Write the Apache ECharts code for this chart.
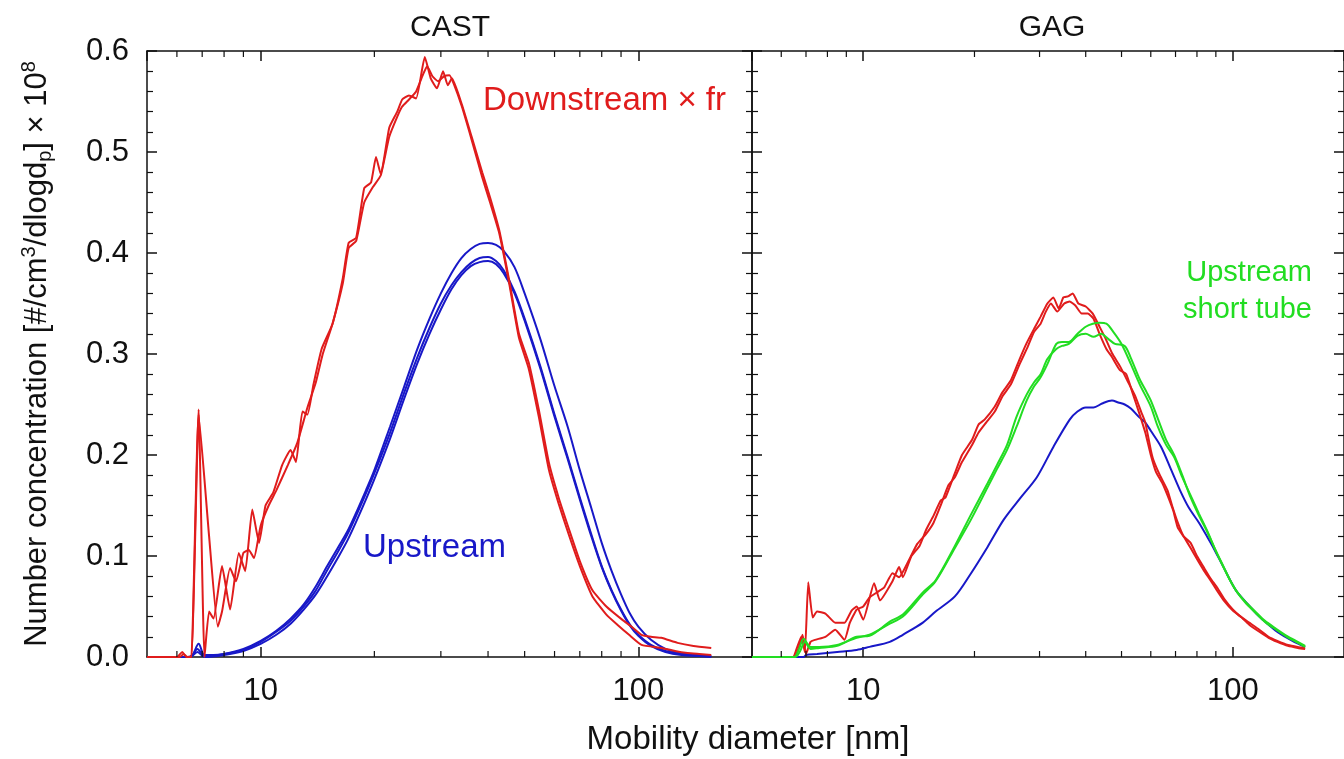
<!DOCTYPE html>
<html>
<head>
<meta charset="utf-8">
<script src="https://cdn.jsdelivr.net/npm/echarts@6/dist/echarts.min.js"></script>
<style>html,body{margin:0;padding:0;background:#fff}#c{width:1344px;height:759px}</style>
</head>
<body>
<div id="c"></div>
<script>
// ---- data: [mobility diameter nm, number concentration x1e8] ----
var castDownA = [[5,0],[6.0,0],[6.2,0.005],[6.35,0],[6.55,0],[6.85,0.245],[7.1,0],[7.3,0.045],[7.5,0.038],[7.9,0.09],[8.3,0.047],[8.75,0.103],[9.1,0.085],[9.5,0.146],[9.9,0.113],[10.3,0.15],[10.8,0.163],[11.4,0.19],[12.0,0.205],[12.4,0.193],[12.9,0.243],[13.3,0.24],[13.8,0.27],[14.5,0.305],[15.5,0.33],[16.5,0.375],[17.1,0.41],[17.9,0.415],[18.8,0.464],[19.6,0.47],[20.2,0.495],[20.8,0.478],[21.9,0.524],[23.0,0.54],[23.7,0.552],[24.7,0.556],[25.8,0.553],[27.2,0.594],[28.2,0.573],[29.3,0.563],[30.4,0.58],[31.3,0.566],[32.1,0.573],[34.1,0.547],[36.2,0.515],[38.6,0.48],[40.5,0.455],[42.8,0.423],[45.5,0.373],[48.3,0.32],[51.3,0.291],[54.5,0.245],[58,0.192],[61.5,0.158],[65.6,0.126],[70,0.095],[75.6,0.066],[82.3,0.05],[90.6,0.037],[96,0.03],[102,0.022],[108,0.02],[115,0.019],[127,0.014],[140,0.011],[156,0.009]];
var castDownB = [[5,0],[6.1,0],[6.25,0.003],[6.4,0],[6.55,0],[6.85,0.24],[7.3,0.12],[7.7,0.03],[7.9,0.045],[8.3,0.088],[8.6,0.075],[9.0,0.103],[9.3,0.106],[9.6,0.098],[10.0,0.13],[10.5,0.15],[11.0,0.165],[11.8,0.19],[12.5,0.212],[13.3,0.247],[14.0,0.272],[14.6,0.3],[15.5,0.33],[16.5,0.37],[17.1,0.405],[17.9,0.412],[18.8,0.45],[19.8,0.465],[20.8,0.477],[21.9,0.515],[23.0,0.535],[23.7,0.545],[24.7,0.552],[25.8,0.56],[27.0,0.578],[27.6,0.585],[28.5,0.575],[29.5,0.57],[30.6,0.575],[31.6,0.576],[32.5,0.567],[34.1,0.545],[36.2,0.512],[38.6,0.475],[40.5,0.45],[42.8,0.42],[45.5,0.37],[48.3,0.316],[51.3,0.285],[54.5,0.238],[58,0.185],[61.5,0.152],[65.6,0.12],[70,0.09],[75.6,0.06],[82.3,0.042],[88,0.032],[94.5,0.022],[102,0.012],[115,0.009],[125,0.006],[135,0.004],[145,0.003],[156,0.002]];
var castUpA = [[5,0],[6.4,0],[6.6,0.002],[6.85,0.013],[7.1,0.002],[7.5,0.002],[8,0.003],[9,0.008],[10,0.016],[11,0.026],[12,0.038],[13,0.052],[14,0.07],[15,0.09],[16,0.108],[17,0.125],[18,0.145],[19,0.165],[20,0.185],[22,0.228],[24,0.268],[26,0.305],[28,0.335],[30,0.36],[32,0.38],[34,0.395],[36,0.404],[38,0.409],[40,0.41],[42,0.408],[44,0.402],[47,0.386],[50,0.36],[55,0.315],[60,0.268],[65,0.228],[70,0.185],[75,0.148],[80,0.113],[85,0.085],[90,0.062],[95,0.043],[100,0.03],[108,0.017],[118,0.008],[130,0.004],[145,0.002],[156,0.001]];
var castUpB = [[5,0],[6.5,0],[6.8,0.008],[7.1,0.001],[8,0.003],[9,0.007],[10,0.015],[11,0.025],[12,0.036],[13,0.05],[14,0.066],[15,0.086],[16,0.104],[17,0.122],[18,0.142],[19,0.162],[20,0.182],[22,0.222],[24,0.262],[26,0.297],[28,0.326],[30,0.35],[32,0.368],[34,0.381],[36,0.39],[38,0.395],[40,0.396],[42,0.392],[44,0.383],[47,0.362],[50,0.335],[55,0.288],[60,0.24],[65,0.198],[70,0.158],[75,0.122],[80,0.09],[85,0.066],[90,0.047],[95,0.032],[100,0.022],[108,0.012],[118,0.006],[130,0.003],[145,0.001],[156,0.001]];
var castUpC = [[5,0],[6.5,0],[6.8,0.005],[7.1,0],[8,0.002],[9,0.006],[10,0.013],[11,0.022],[12,0.033],[13,0.047],[14,0.062],[15,0.08],[16,0.098],[17,0.116],[18,0.136],[19,0.156],[20,0.176],[22,0.216],[24,0.256],[26,0.291],[28,0.32],[30,0.344],[32,0.364],[34,0.378],[36,0.387],[38,0.391],[40,0.392],[42,0.389],[44,0.38],[47,0.36],[50,0.333],[55,0.286],[60,0.238],[65,0.196],[70,0.156],[75,0.12],[80,0.089],[85,0.065],[90,0.046],[95,0.031],[100,0.021],[108,0.011],[118,0.005],[130,0.002],[145,0.001],[156,0]];
var gagDownA = [[5,0],[6.45,0],[6.6,0.008],[6.8,0.02],[6.95,0.005],[7.1,0.074],[7.3,0.039],[7.5,0.045],[7.9,0.043],[8.4,0.034],[8.9,0.034],[9.3,0.046],[9.6,0.05],[10,0.037],[10.7,0.073],[11.1,0.056],[12,0.075],[12.5,0.089],[12.8,0.079],[13.5,0.1],[14.2,0.11],[14.8,0.126],[15.5,0.14],[16.2,0.155],[16.7,0.158],[17.7,0.182],[18.5,0.2],[19.7,0.215],[20.5,0.23],[21.3,0.235],[22.7,0.248],[23.8,0.262],[25.1,0.274],[26.5,0.295],[27.7,0.311],[29,0.325],[30.2,0.337],[31.5,0.35],[32.7,0.356],[33.8,0.345],[34.8,0.356],[35.8,0.357],[36.9,0.36],[38.2,0.35],[40,0.347],[41.8,0.34],[43.6,0.327],[45.3,0.315],[47.1,0.301],[49.5,0.288],[52.3,0.271],[54.5,0.258],[56.6,0.242],[58,0.232],[60,0.205],[61,0.195],[63.5,0.18],[66.6,0.165],[68.5,0.15],[71,0.133],[73.5,0.12],[76.9,0.113],[80,0.1],[83.4,0.089],[87,0.078],[90.6,0.069],[95,0.057],[100,0.047],[105,0.04],[110.8,0.034],[118,0.027],[125,0.02],[132,0.016],[141,0.012],[150,0.01],[157,0.009]];
var gagDownB = [[5,0],[6.5,0],[6.7,0.01],[6.85,0.022],[7.0,0.003],[7.2,0.015],[7.4,0.017],[7.9,0.02],[8.4,0.027],[8.9,0.017],[9.2,0.034],[9.6,0.047],[10.0,0.05],[10.4,0.059],[11.0,0.065],[11.4,0.069],[12.0,0.083],[12.5,0.079],[13.3,0.096],[14.0,0.112],[14.8,0.122],[15.5,0.133],[16.2,0.15],[17.0,0.17],[17.7,0.178],[18.5,0.193],[19.7,0.21],[20.5,0.222],[21.5,0.232],[22.7,0.243],[23.8,0.258],[25.1,0.27],[26.5,0.29],[27.7,0.305],[29,0.322],[30.2,0.33],[31.2,0.342],[32.2,0.35],[33.5,0.342],[35.0,0.35],[36.2,0.352],[37.5,0.348],[39,0.34],[40.5,0.34],[42,0.335],[43.6,0.32],[45.5,0.305],[47.1,0.297],[49.5,0.284],[51.5,0.28],[53.5,0.262],[56,0.24],[58,0.222],[60,0.2],[62,0.183],[64.5,0.172],[66.6,0.16],[69,0.145],[71,0.128],[74,0.118],[76.9,0.108],[80,0.097],[83.4,0.086],[87,0.076],[90.6,0.066],[95,0.055],[100,0.046],[105,0.04],[110.8,0.032],[118,0.025],[125,0.019],[132,0.015],[141,0.011],[150,0.009],[157,0.008]];
var gagShortA = [[5,0],[6.5,0],[6.7,0.008],[6.9,0.018],[7.2,0.01],[7.6,0.01],[8.5,0.012],[9.6,0.019],[10.4,0.022],[11.8,0.033],[12.8,0.04],[14.5,0.062],[15.7,0.075],[17.7,0.108],[19.5,0.135],[21.7,0.168],[23,0.186],[24.5,0.205],[26,0.228],[27.7,0.254],[29,0.268],[30.2,0.277],[31.5,0.29],[33.3,0.31],[34.5,0.312],[36,0.312],[38,0.32],[40,0.327],[41.8,0.33],[43.6,0.331],[45.5,0.33],[47.5,0.322],[50,0.31],[53,0.29],[56,0.27],[60,0.248],[62.7,0.228],[66,0.21],[69.4,0.198],[73,0.178],[76.9,0.16],[81,0.142],[85,0.126],[90,0.105],[94.3,0.089],[98,0.077],[102,0.066],[108,0.054],[115,0.044],[122,0.035],[131,0.027],[140,0.02],[150,0.014],[157,0.01]];
var gagShortB = [[5,0],[6.55,0],[6.75,0.006],[6.95,0.015],[7.2,0.008],[7.6,0.009],[8.5,0.011],[9.6,0.02],[10.4,0.021],[11.8,0.035],[12.8,0.042],[14.5,0.064],[15.7,0.076],[17.7,0.11],[19.5,0.14],[21.7,0.172],[23,0.19],[24.5,0.21],[26,0.238],[27.7,0.26],[29,0.272],[30.2,0.28],[31.5,0.295],[33.3,0.305],[34.5,0.308],[36,0.31],[38,0.318],[40,0.32],[42,0.317],[44,0.32],[46,0.315],[48,0.31],[51,0.308],[53,0.296],[56,0.275],[58.5,0.262],[60,0.254],[62.7,0.236],[66,0.215],[69.4,0.2],[73,0.18],[76.9,0.158],[81,0.14],[85,0.125],[90,0.105],[94.3,0.09],[98,0.077],[102,0.066],[108,0.055],[115,0.045],[122,0.036],[131,0.028],[140,0.021],[150,0.015],[157,0.011]];
var gagUp = [[5,0],[6.9,0],[7.0,0.002],[7.5,0.003],[8.5,0.005],[9.6,0.007],[10.4,0.01],[11.8,0.015],[12.8,0.022],[14.5,0.034],[15.7,0.045],[17.7,0.06],[19.5,0.082],[21.7,0.109],[24,0.136],[26.7,0.158],[29.5,0.178],[32.7,0.208],[36.2,0.235],[38,0.243],[40,0.247],[42,0.247],[44.3,0.251],[47.1,0.254],[49,0.252],[51,0.25],[53,0.246],[55.6,0.238],[58,0.232],[60,0.224],[64,0.208],[68,0.186],[72,0.165],[76,0.148],[81,0.133],[85,0.12],[88.4,0.109],[95,0.087],[102,0.066],[110,0.052],[118,0.04],[125,0.032],[133,0.024],[145,0.016],[157,0.01]];
var minorTickValues = [6,7,8,9,20,30,40,50,60,70,80,90];
var panelTitles = ['CAST','GAG'];
var xAxisTitle = 'Mobility diameter [nm]';

var RED = '#e01c1c', BLUE = '#1818c8', GREEN = '#22dd22', INK = '#111';
var FONT = '"Liberation Sans", Arial, sans-serif';

var chart = echarts.init(document.getElementById('c'), null, {renderer: 'canvas'});

var grids = [
  {left: 147, top: 51, width: 605, height: 606},
  {left: 752, top: 51, width: 605, height: 606}
];

function xAx(gi, pos) {
  return {
    type: 'log', logBase: 10, min: 5, max: 200, gridIndex: gi, position: pos,
    axisLine: {show: true, onZero: false, lineStyle: {color: INK, width: 1.5}},
    axisTick: {show: true, inside: true, length: 10, lineStyle: {color: INK, width: 1.5}},
    minorTick: {show: false},
    splitLine: {show: false},
    axisLabel: {show: pos === 'bottom', margin: 19, fontSize: 31, color: INK, fontFamily: FONT,
      showMinLabel: false, showMaxLabel: false}
  };
}
function yAx(gi, pos, labels) {
  var a = {
    type: 'value', min: 0, max: 0.6, interval: 0.1, gridIndex: gi, position: pos,
    axisLine: {show: true, onZero: false, lineStyle: {color: INK, width: 1.5}},
    axisTick: {show: true, inside: true, length: 10, lineStyle: {color: INK, width: 1.5}},
    minorTick: {show: true, splitNumber: 5, length: 6, lineStyle: {color: INK, width: 1.2}},
    splitLine: {show: false},
    axisLabel: {show: labels, margin: 18, fontSize: 31, color: INK, fontFamily: FONT,
      formatter: function (v) { return v.toFixed(1); }}
  };
  if (labels) {
    a.name = 'Number concentration [#/cm{sup|3}/dlogd{sub|p}] × 10{sup|8}';
    a.nameLocation = 'middle';
    a.nameRotate = 90;
    a.nameGap = 92;
    a.nameTextStyle = {fontSize: 31, color: INK, fontFamily: FONT,
      rich: {sup: {fontSize: 20, color: INK, fontFamily: FONT, verticalAlign: 'top', lineHeight: 36},
             sub: {fontSize: 20, color: INK, fontFamily: FONT, verticalAlign: 'bottom', lineHeight: 36}}};
  }
  return a;
}

function line(data, color, xi, yi, sm) {
  return {type: 'line', data: data, xAxisIndex: xi, yAxisIndex: yi, showSymbol: false, symbol: 'none',
    smooth: sm, lineStyle: {color: color, width: 2}, itemStyle: {color: color}, silent: true, z: 3, clip: true};
}
function minorTicks(xi, yi) {
  return {
    type: 'custom', xAxisIndex: xi, yAxisIndex: yi, silent: true, z: 5, clip: false,
    data: minorTickValues.map(function (v) { return [v]; }),
    renderItem: function (params, api) {
      var d = api.value(0);
      var b = api.coord([d, 0]);
      var t = api.coord([d, 0.6]);
      var st = {stroke: INK, lineWidth: 1.2};
      return {type: 'group', children: [
        {type: 'line', shape: {x1: b[0], y1: b[1], x2: b[0], y2: b[1] - 6}, style: st},
        {type: 'line', shape: {x1: t[0], y1: t[1], x2: t[0], y2: t[1] + 6}, style: st}
      ]};
    }
  };
}

var option = {
  animation: false,
  backgroundColor: '#fff',
  grid: grids,
  xAxis: [xAx(0, 'bottom'), xAx(0, 'top'), xAx(1, 'bottom'), xAx(1, 'top')],
  yAxis: [yAx(0, 'left', true), yAx(0, 'right', false), yAx(1, 'left', false), yAx(1, 'right', false)],
  series: [
    line(castUpA, BLUE, 0, 0, 0.3), line(castUpB, BLUE, 0, 0, 0.3), line(castUpC, BLUE, 0, 0, 0.3),
    line(castDownA, RED, 0, 0, 0.15), line(castDownB, RED, 0, 0, 0.15),
    line(gagUp, BLUE, 2, 2, 0.3),
    line(gagDownA, RED, 2, 2, 0.15), line(gagDownB, RED, 2, 2, 0.15),
    line(gagShortA, GREEN, 2, 2, 0.3), line(gagShortB, GREEN, 2, 2, 0.3),
    minorTicks(0, 0), minorTicks(2, 2)
  ],
  graphic: [
    {type: 'text', x: 450, y: 28, style: {text: panelTitles[0], font: '30px ' + FONT, fill: INK, textAlign: 'center', textVerticalAlign: 'middle'}},
    {type: 'text', x: 1052, y: 28, style: {text: panelTitles[1], font: '30px ' + FONT, fill: INK, textAlign: 'center', textVerticalAlign: 'middle'}},
    {type: 'text', x: 748, y: 740, style: {text: xAxisTitle, font: '33px ' + FONT, fill: INK, textAlign: 'center', textVerticalAlign: 'middle'}},
    {type: 'text', x: 483, y: 101, style: {text: 'Downstream × fr', font: '33px ' + FONT, fill: RED, textAlign: 'left', textVerticalAlign: 'middle'}},
    {type: 'text', x: 363, y: 548, style: {text: 'Upstream', font: '33px ' + FONT, fill: BLUE, textAlign: 'left', textVerticalAlign: 'middle'}},
    {type: 'text', x: 1312, y: 273, style: {text: 'Upstream', font: '29px ' + FONT, fill: GREEN, textAlign: 'right', textVerticalAlign: 'middle'}},
    {type: 'text', x: 1312, y: 310, style: {text: 'short tube', font: '29px ' + FONT, fill: GREEN, textAlign: 'right', textVerticalAlign: 'middle'}}
  ]
};
chart.setOption(option);
</script>
</body>
</html>
